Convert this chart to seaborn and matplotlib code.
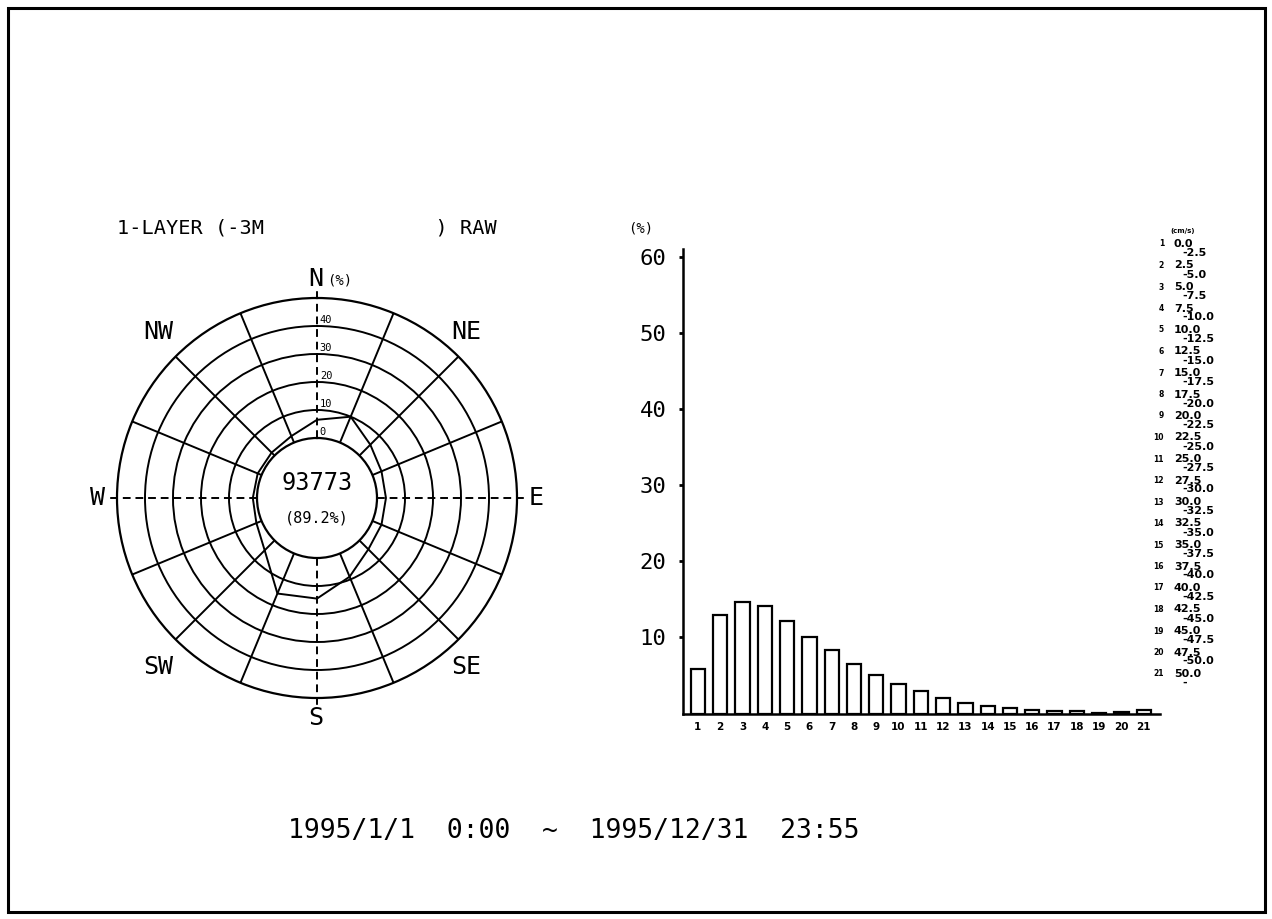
import numpy as np
import matplotlib
matplotlib.use("Agg")
import matplotlib.pyplot as plt
from matplotlib.patches import Rectangle
import seaborn as sns
import pandas as pd

# ---------------- data ----------------
directions = ["N", "NNE", "NE", "ENE", "E", "ESE", "SE", "SSE",
              "S", "SSW", "SW", "WSW", "W", "WNW", "NW", "NNW"]
dir_angle = [0, 22.5, 45, 67.5, 90, 112.5, 135, 157.5,
             180, 202.5, 225, 247.5, 270, 292.5, 315, 337.5]
dir_freq = [6.5, 10.0, 5.5, 3.5, 3.2, 3.5, 4.5, 9.0,
            14.5, 15.5, 5.0, 2.0, 1.5, 1.5, 1.5, 2.5]
rose_rings = [0, 10, 20, 30, 40]
total_count = "93773"
valid_rate = "(89.2%)"

speed_class = ["1", "2", "3", "4", "5", "6", "7", "8", "9", "10", "11",
               "12", "13", "14", "15", "16", "17", "18", "19", "20", "21"]
speed_freq = [5.9, 13.0, 14.6, 14.1, 12.2, 10.0, 8.3, 6.5, 5.1, 3.9, 3.0,
              2.0, 1.4, 1.0, 0.7, 0.5, 0.35, 0.35, 0.1, 0.15, 0.5]
speed_low = ["0.0", "2.5", "5.0", "7.5", "10.0", "12.5", "15.0", "17.5",
             "20.0", "22.5", "25.0", "27.5", "30.0", "32.5", "35.0", "37.5",
             "40.0", "42.5", "45.0", "47.5", "50.0"]
speed_high = ["-2.5", "-5.0", "-7.5", "-10.0", "-12.5", "-15.0", "-17.5",
              "-20.0", "-22.5", "-25.0", "-27.5", "-30.0", "-32.5", "-35.0",
              "-37.5", "-40.0", "-42.5", "-45.0", "-47.5", "-50.0", "-"]
bar_yticks = [10, 20, 30, 40, 50, 60]

title_text = "1-LAYER (-3M              ) RAW"
period_text = "1995/1/1  0:00  ~  1995/12/31  23:55"

# ---------------- layout ----------------
W, H = 1272, 919
sns.set_theme(style="white")
plt.rcParams["font.family"] = ["DejaVu Sans Mono", "DejaVu Sans"]
for key in ["text.color", "axes.labelcolor", "xtick.color", "ytick.color",
            "axes.edgecolor"]:
    plt.rcParams[key] = "black"
fig = plt.figure(figsize=(W / 100, H / 100), dpi=100)
fig.patch.set_facecolor("white")


def fx(x):
    return x / W


def fy(y):
    return 1 - y / H


# frame
fig.patches.append(Rectangle((fx(8), fy(912)), fx(1265) - fx(8), fy(8) - fy(912),
                             transform=fig.transFigure, fill=False,
                             edgecolor="black", linewidth=2.2))

# ---------------- wind rose ----------------
cx, cy, R_out, R_in = 317, 498, 200, 60
axr = fig.add_axes([fx(cx - R_out), fy(cy + R_out), 2 * R_out / W, 2 * R_out / H],
                   projection="polar")
axr.set_facecolor("none")
axr.set_theta_zero_location("N")
axr.set_theta_direction(-1)
scale = (R_out - R_in) / 50.0
axr.set_rorigin(-R_in / scale)
axr.set_rlim(0, 50)
axr.set_rgrids([10, 20, 30, 40], labels=[""] * 4)
spoke_angles = [a for a in dir_angle if a % 90 != 0]
axr.set_thetagrids(spoke_angles, labels=[""] * len(spoke_angles))
axr.grid(True, color="black", linewidth=1.4, linestyle="-")
for s in axr.spines.values():
    s.set_edgecolor("black")
    s.set_linewidth(1.6)

theta = np.deg2rad(dir_angle + [dir_angle[0]])
rvals = dir_freq + [dir_freq[0]]
sns.lineplot(x=theta, y=rvals, sort=False, estimator=None, color="black",
             linewidth=1.4, ax=axr)
axr.set_xlabel("")
axr.set_ylabel("")

for a in [0, 90, 180, 270]:
    axr.plot([np.deg2rad(a)] * 2, [0, 52.9], color="black", linewidth=1.4,
             linestyle=(0, (4, 2.5)), clip_on=False)

for v in rose_rings:
    axr.annotate(str(v), xy=(0, v), xytext=(2, 0.5), textcoords="offset points",
                 ha="left", va="bottom", fontsize=7.5, color="black")

axr.set_rlim(0, 50)

compass = [("N", 316, 279), ("NE", 466, 332), ("E", 536, 498), ("SE", 466, 667),
           ("S", 316, 718), ("SW", 158, 667), ("W", 97, 498), ("NW", 158, 332)]
for lab, x, y in compass:
    fig.text(fx(x), fy(y), lab, ha="center", va="center", fontsize=18)
fig.text(fx(327), fy(281), "(%)", ha="left", va="center", fontsize=10)

fig.text(fx(cx), fy(483), total_count, ha="center", va="center", fontsize=17)
fig.text(fx(cx), fy(518), valid_rate, ha="center", va="center", fontsize=11)

fig.text(fx(117), fy(228), title_text, ha="left", va="center", fontsize=14.6)
fig.text(fx(288), fy(831), period_text, ha="left", va="center", fontsize=19)

# ---------------- speed histogram ----------------
y0, y_top = 713.5, 249
axb = fig.add_axes([fx(683), fy(y0), (1160 - 683) / W, (y0 - y_top) / H])
df = pd.DataFrame({"cls": speed_class, "freq": speed_freq})
sns.barplot(data=df, x="cls", y="freq", order=speed_class, color="white",
            edgecolor="black", linewidth=1.6, width=0.64, ax=axb)
axb.set_xlim(-0.67, 20.73)
axb.set_ylim(0, 61)
axb.set_facecolor("none")
for side in ["top", "right"]:
    axb.spines[side].set_visible(False)
for side in ["left", "bottom"]:
    axb.spines[side].set_color("black")
    axb.spines[side].set_linewidth(1.8)
axb.set_yticks(bar_yticks)
axb.set_yticklabels([str(t) for t in bar_yticks], fontsize=16)
axb.tick_params(axis="y", length=3, width=2, pad=9, color="black", left=True)
axb.tick_params(axis="x", length=0, pad=6, labelsize=7.5)
for t in axb.get_xticklabels():
    t.set_fontweight("bold")
    t.set_family("DejaVu Sans")
axb.set_xlabel("")
axb.set_ylabel("")
fig.text(fx(641), fy(229), "(%)", ha="center", va="center", fontsize=10)

# class legend at right
fig.text(fx(1183), fy(231), "(cm/s)", ha="center", va="center", fontsize=5,
         fontweight="bold", family="DejaVu Sans")
for i, (c, lo, hi) in enumerate(zip(speed_class, speed_low, speed_high)):
    yy = 244 + 21.5 * i
    fig.text(fx(1164), fy(yy), c, ha="right", va="center", fontsize=5.5,
             fontweight="bold", family="DejaVu Sans")
    fig.text(fx(1174), fy(yy), lo, ha="left", va="center", fontsize=8,
             fontweight="bold", family="DejaVu Sans")
    fig.text(fx(1182), fy(yy + 9), hi, ha="left", va="center", fontsize=8,
             fontweight="bold", family="DejaVu Sans")

fig.savefig("out.png", dpi=100)
